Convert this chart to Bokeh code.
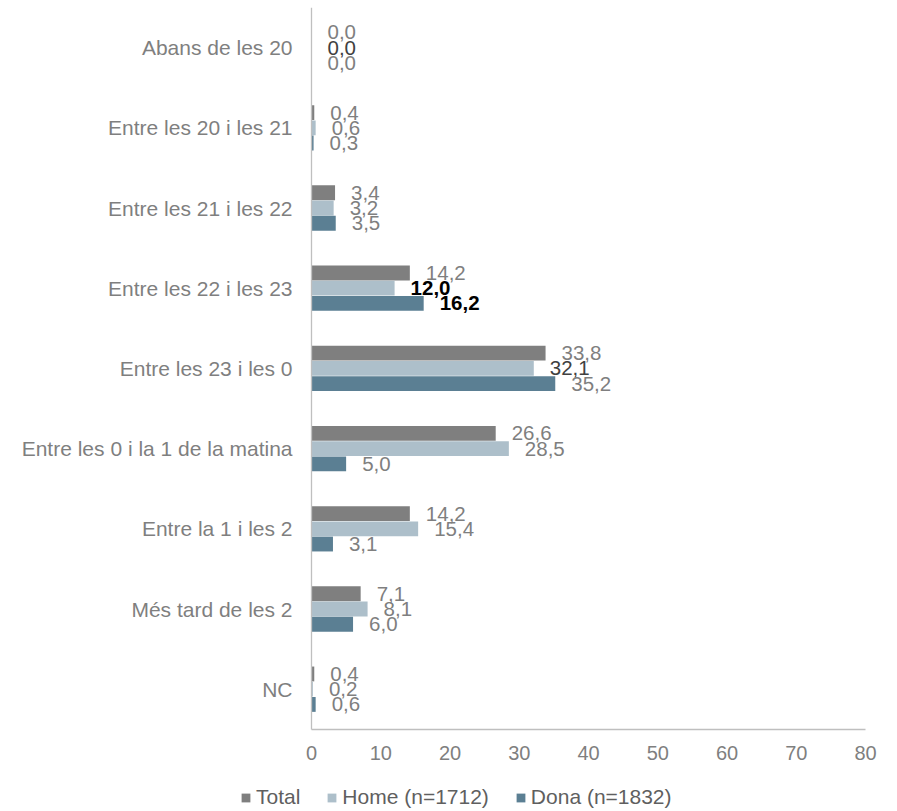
from bokeh.plotting import figure
from bokeh.models import FactorRange, Range1d, ColumnDataSource, FixedTicker
from bokeh.transform import dodge
from bokeh.core.properties import value
from bokeh.embed import file_html
from bokeh.resources import INLINE

categories = ["Abans de les 20", "Entre les 20 i les 21", "Entre les 21 i les 22",
              "Entre les 22 i les 23", "Entre les 23 i les 0",
              "Entre les 0 i la 1 de la matina", "Entre la 1 i les 2",
              "Més tard de les 2", "NC"]
total = [0.0, 0.4, 3.4, 14.2, 33.8, 26.6, 14.2, 7.1, 0.4]
home = [0.0, 0.6, 3.2, 12.0, 32.1, 28.5, 15.4, 8.1, 0.2]
dona = [0.0, 0.3, 3.5, 16.2, 35.2, 5.0, 3.1, 6.0, 0.6]
series_names = ["Total", "Home (n=1712)", "Dona (n=1832)"]
x_ticks = [0, 10, 20, 30, 40, 50, 60, 70, 80]

# label styling (which labels are emphasised in the reference)
home_label_colors = ["#404040", "#7f7f7f", "#7f7f7f", "#000000", "#404040",
                     "#7f7f7f", "#7f7f7f", "#7f7f7f", "#7f7f7f"]
home_label_styles = ["normal", "normal", "normal", "bold", "normal",
                     "normal", "normal", "normal", "normal"]
dona_label_colors = ["#7f7f7f", "#7f7f7f", "#7f7f7f", "#000000", "#7f7f7f",
                     "#7f7f7f", "#7f7f7f", "#7f7f7f", "#7f7f7f"]
dona_label_styles = ["normal", "normal", "normal", "bold", "normal",
                     "normal", "normal", "normal", "normal"]
total_label_colors = ["#7f7f7f"] * 9
total_label_styles = ["normal"] * 9

colors = ["#7f7f7f", "#adbfca", "#5b7f93"]
offsets = [0.19, 0.0, -0.19]

FONT = "Liberation Sans"


def fmt(v):
    return ("%.1f" % v).replace(".", ",")


# frame covers the whole canvas; a blank band at the bottom holds the legend
W, H = 890, 811
x_px_left, x_px_right = 311, 865
ppu = (x_px_right - x_px_left) / (x_ticks[-1] - x_ticks[0])
x_start = -x_px_left / ppu
x_end = x_ticks[-1] + (W - x_px_right) / ppu

p = figure(width=W, height=H,
           y_range=FactorRange(factors=[" "] + list(reversed(categories))),
           x_range=Range1d(x_start, x_end),
           output_backend="svg", toolbar_location=None,
           min_border_left=0, min_border_right=0,
           min_border_top=7, min_border_bottom=2)
p.outline_line_color = None
p.xgrid.visible = False
p.ygrid.visible = False
p.background_fill_color = "white"
p.border_fill_color = "white"

series_vals = [total, home, dona]
label_cols = [total_label_colors, home_label_colors, dona_label_colors]
label_styles = [total_label_styles, home_label_styles, dona_label_styles]

for name, vals, col, off, lc, ls in zip(series_names, series_vals, colors, offsets,
                                        label_cols, label_styles):
    src = ColumnDataSource(dict(cat=categories, val=vals,
                                txt=[fmt(v) for v in vals],
                                tc=lc, ts=ls))
    p.hbar(y=dodge("cat", off, range=p.y_range), right="val", left=0,
           height=0.185, color=col, line_color=None, source=src,
           legend_label=name)
    p.text(x="val", y=dodge("cat", off, range=p.y_range), text="txt",
           source=src, x_offset=16, text_align="left", text_baseline="middle",
           text_color="tc", text_font_style="ts",
           text_font=value(FONT), text_font_size=value("20.5px"))

xa = p.xaxis[0]
xa.fixed_location = 1
xa.bounds = (x_ticks[0], x_ticks[-1])
xa.ticker = FixedTicker(ticks=x_ticks)
xa.major_tick_line_color = None
xa.minor_tick_line_color = None
xa.axis_line_color = "#bfbfbf"
xa.axis_line_width = 1.3
xa.major_label_text_font = FONT
xa.major_label_text_font_size = "20px"
xa.major_label_text_color = "#7f7f7f"
xa.major_label_standoff = 11

ya = p.yaxis[0]
ya.fixed_location = 0
ya.bounds = (1, len(categories) + 1)
ya.major_tick_line_color = None
ya.minor_tick_line_color = None
ya.axis_line_color = "#bfbfbf"
ya.axis_line_width = 1.3
ya.major_label_text_font = FONT
ya.major_label_text_font_size = "21px"
ya.major_label_text_color = "#7f7f7f"
ya.major_label_standoff = 13

lg = p.legend[0]
lg.orientation = "horizontal"
lg.location = (240, 0)
lg.glyph_width = 11
lg.glyph_height = 11
lg.label_standoff = 5
lg.spacing = 26
lg.padding = 0
lg.margin = 0
lg.border_line_color = None
lg.background_fill_alpha = 0
lg.label_text_font = FONT
lg.label_text_font_size = "21px"
lg.label_text_color = "#5f5f5f"

open("out.html", "w").write(file_html(p, INLINE))
